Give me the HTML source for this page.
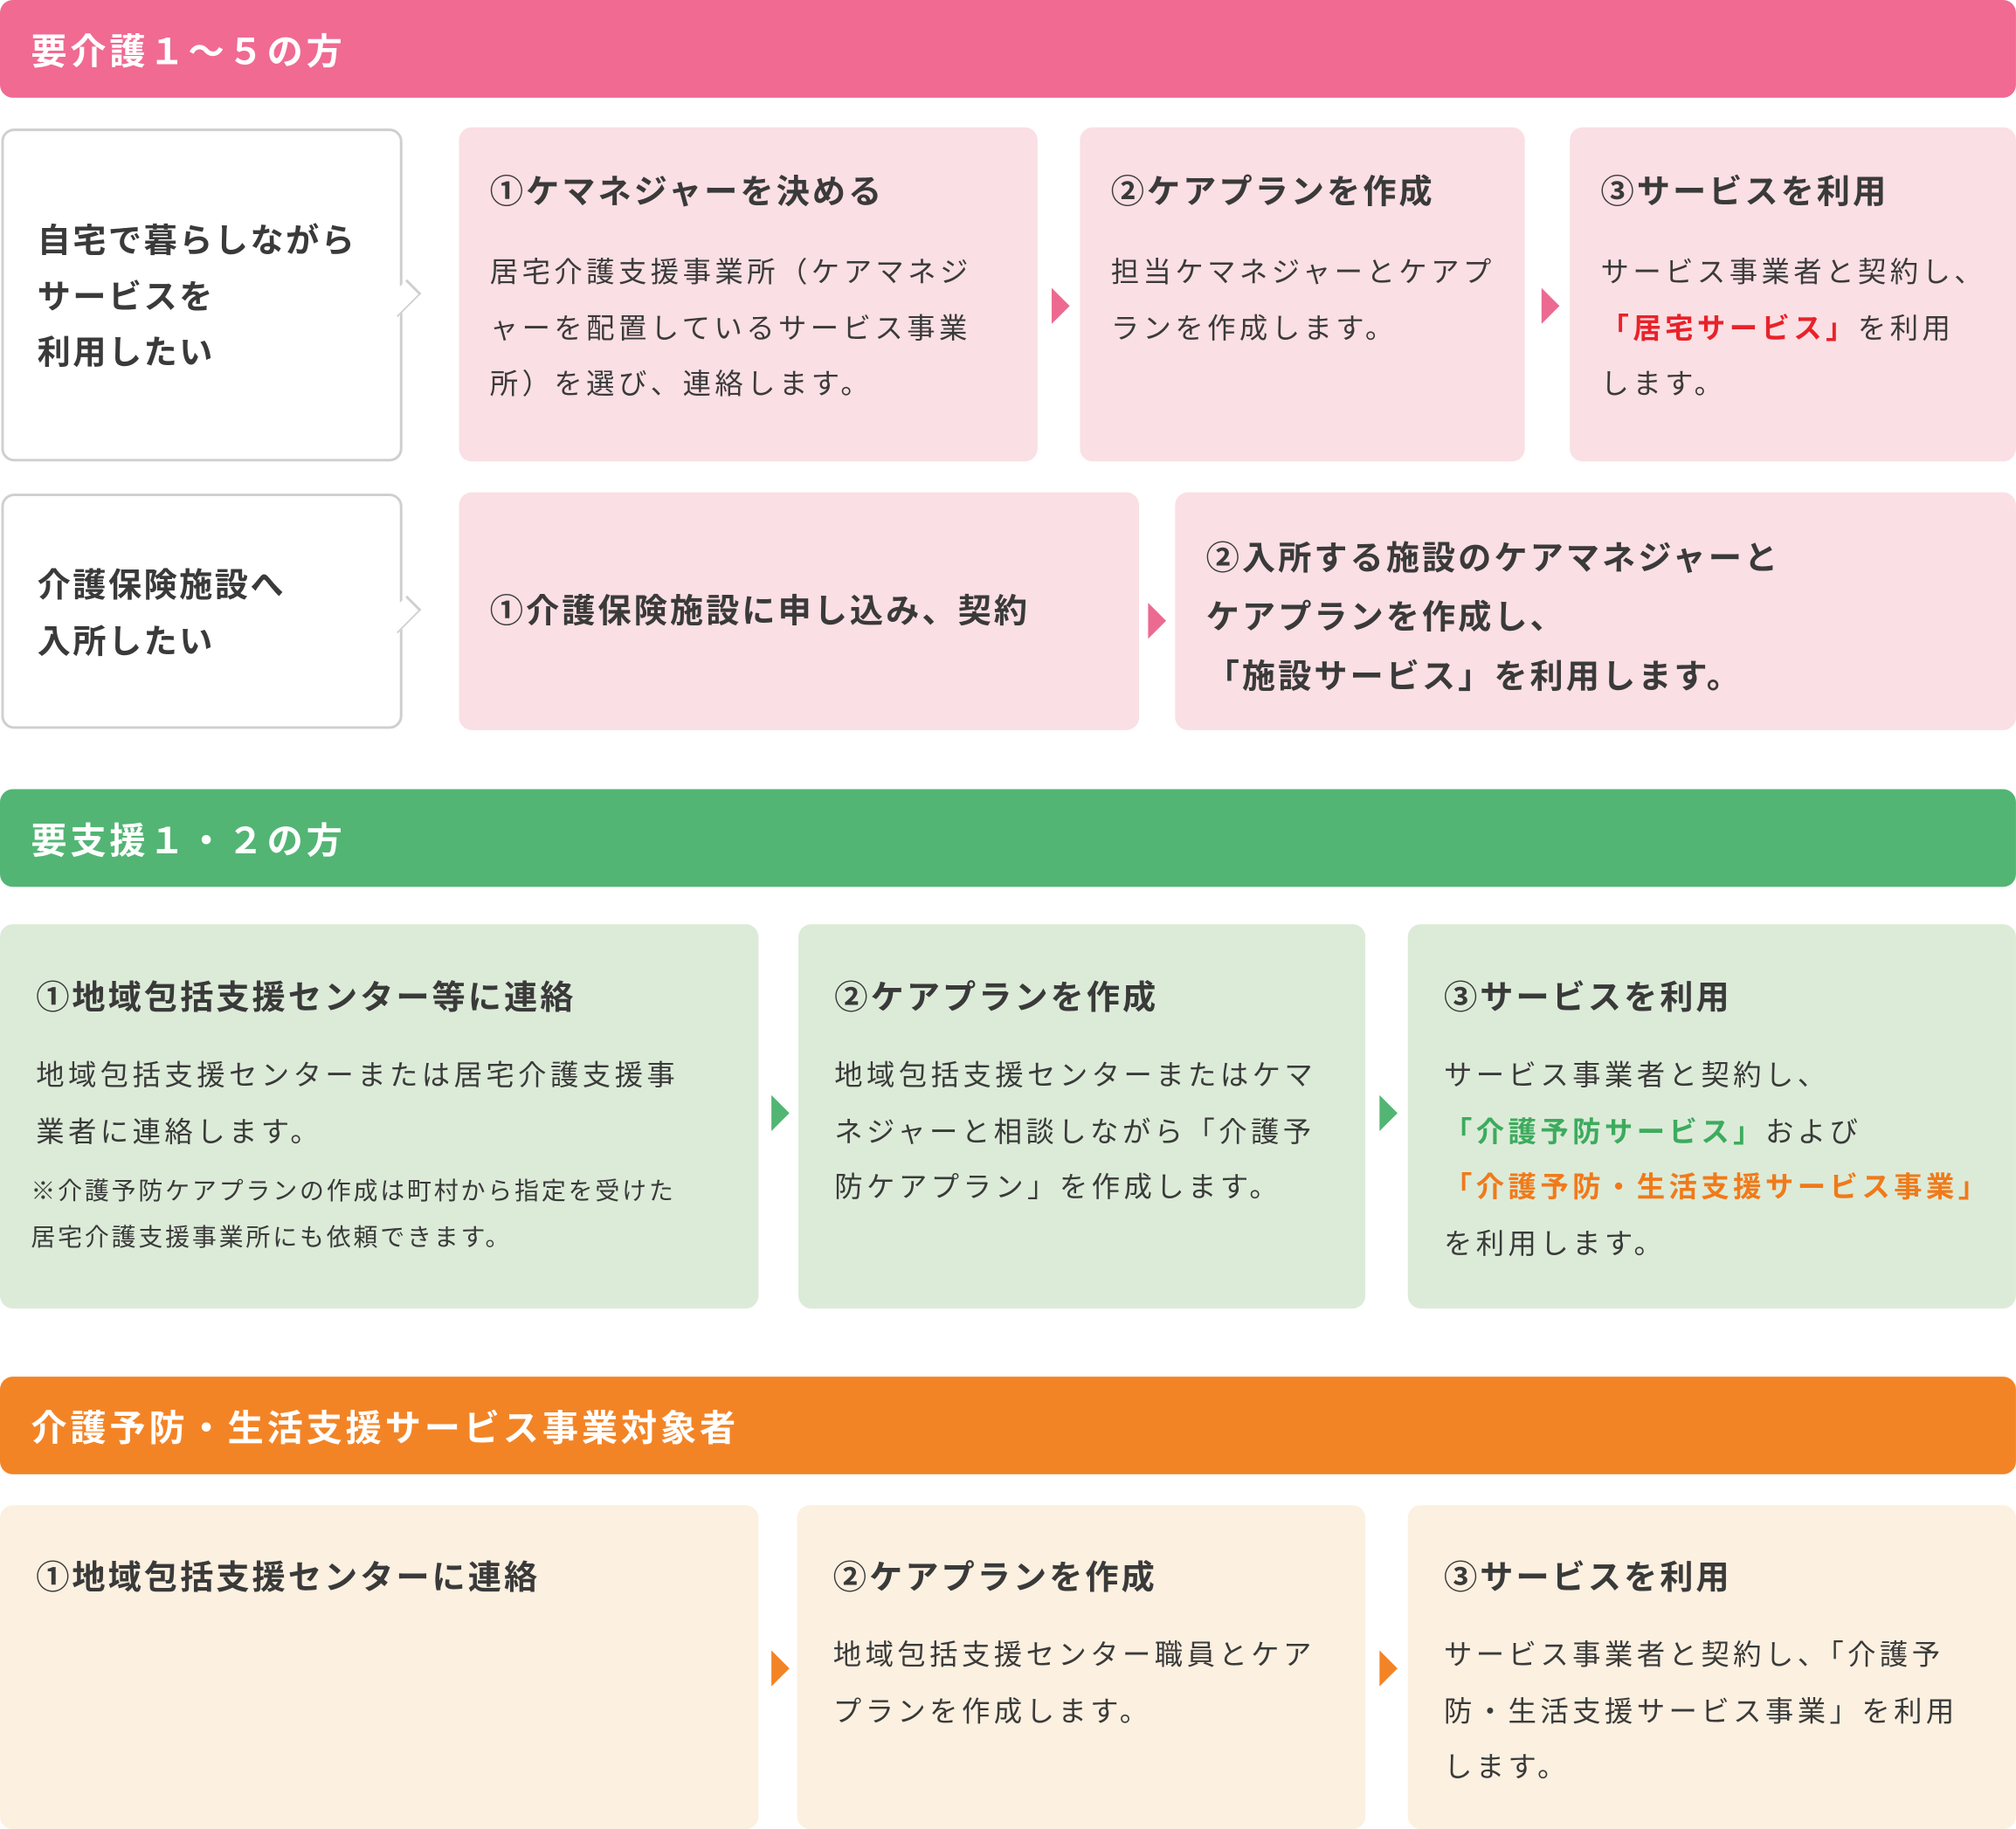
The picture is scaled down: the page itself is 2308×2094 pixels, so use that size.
<!DOCTYPE html>
<html><head><meta charset="utf-8">
<style>
html,body{margin:0;padding:0;background:#fff;}
body{width:2308px;height:2094px;overflow:hidden;}
#w{position:absolute;left:0;top:0;width:1568px;height:1423px;transform:scale(1.4719,1.4716);transform-origin:0 0;font-family:"Liberation Sans","Noto Sans CJK JP",sans-serif;color:#3a3a3a;}
.a{position:absolute;box-sizing:border-box;}
.hd{left:0;width:1568px;height:76px;border-radius:10px;color:#fff;font-weight:bold;font-size:28px;line-height:82px;padding-left:24px;letter-spacing:2.6px;}
.lb{background:#fff;border:2px solid #cfcfcf;border-radius:10px;font-weight:bold;font-size:26px;line-height:43.5px;padding-left:26px;letter-spacing:1.6px;}
.ptr{position:absolute;right:-15px;width:24px;height:24px;background:#fff;border-right:2px solid #cfcfcf;border-top:2px solid #cfcfcf;transform:rotate(45deg) scaleX(0.6);}
.bx{border-radius:10px;padding:30px 0 0 24px;}
.t{font-weight:bold;font-size:26px;line-height:40px;letter-spacing:2px;}
.b{font-size:22px;line-height:43.5px;letter-spacing:3px;margin-top:21px;}
.n{font-size:19px;line-height:36px;letter-spacing:1.9px;margin-top:8px;margin-left:-4px;}
.ar{position:absolute;width:0;height:0;border-top:14px solid transparent;border-bottom:14px solid transparent;border-left:14px solid;}
.pk{background:#fadfe4;} .gr{background:#dcebd8;} .or{background:#fcf0e0;}
.red{color:#e8222a;font-weight:bold;} .grn{color:#3dab5e;font-weight:bold;} .org{color:#f07a1a;font-weight:bold;}
</style></head><body><div id="w">

<div class="a hd" style="top:0;background:#f06a92;">要介護１～５の方</div>

<div class="a lb" style="left:1px;top:100px;width:312px;height:259px;padding-top:64px;">自宅で暮らしながら<br>サービスを<br>利用したい<div class="ptr" style="top:117px;"></div></div>
<div class="a bx pk" style="left:357px;top:99px;width:450px;height:260px;"><div class="t">①ケマネジャーを決める</div><div class="b">居宅介護支援事業所（ケアマネジ<br>ャーを配置しているサービス事業<br>所）を選び、連絡します。</div></div>
<div class="ar" style="left:818px;top:224px;border-left-color:#ec6a92;"></div>
<div class="a bx pk" style="left:840px;top:99px;width:346px;height:260px;"><div class="t">②ケアプランを作成</div><div class="b">担当ケマネジャーとケアプ<br>ランを作成します。</div></div>
<div class="ar" style="left:1199px;top:224px;border-left-color:#ec6a92;"></div>
<div class="a bx pk" style="left:1221px;top:99px;width:347px;height:260px;"><div class="t">③サービスを利用</div><div class="b">サービス事業者と契約し、<br><span class="red">「居宅サービス」</span>を利用<br>します。</div></div>

<div class="a lb" style="left:1px;top:384px;width:312px;height:183px;padding-top:48px;">介護保険施設へ<br>入所したい<div class="ptr" style="top:79px;"></div></div>
<div class="a bx pk" style="left:357px;top:383px;width:529px;height:185px;padding-top:72px;"><div class="t">①介護保険施設に申し込み、契約</div></div>
<div class="ar" style="left:893px;top:469px;border-left-color:#ec6a92;"></div>
<div class="a bx pk" style="left:914px;top:383px;width:654px;height:185px;padding-top:28px;"><div class="t" style="line-height:46px;">②入所する施設のケアマネジャーと<br>ケアプランを作成し、<br>「施設サービス」を利用します。</div></div>

<div class="a hd" style="top:614px;background:#52b574;">要支援１・２の方</div>

<div class="a bx gr" style="left:0;top:719px;width:590px;height:299px;padding-left:28px;padding-top:37px;"><div class="t">①地域包括支援センター等に連絡</div><div class="b" style="margin-top:19px;">地域包括支援センターまたは居宅介護支援事<br>業者に連絡します。</div><div class="n">※介護予防ケアプランの作成は町村から指定を受けた<br>居宅介護支援事業所にも依頼できます。</div></div>
<div class="ar" style="left:600px;top:852px;border-left-color:#52b574;"></div>
<div class="a bx gr" style="left:621px;top:719px;width:441px;height:299px;padding-left:28px;padding-top:37px;"><div class="t">②ケアプランを作成</div><div class="b" style="margin-top:19px;">地域包括支援センターまたはケマ<br>ネジャーと相談しながら「介護予<br>防ケアプラン」を作成します。</div></div>
<div class="ar" style="left:1073px;top:852px;border-left-color:#52b574;"></div>
<div class="a bx gr" style="left:1095px;top:719px;width:473px;height:299px;padding-left:28px;padding-top:37px;"><div class="t">③サービスを利用</div><div class="b" style="margin-top:19px;">サービス事業者と契約し、<br><span class="grn">「介護予防サービス」</span>および<br><span class="org">「介護予防・生活支援サービス事業」</span><br>を利用します。</div></div>

<div class="a hd" style="top:1071px;background:#f38426;">介護予防・生活支援サービス事業対象者</div>

<div class="a bx or" style="left:0;top:1171px;width:590px;height:252px;padding-left:28px;padding-top:36px;"><div class="t">①地域包括支援センターに連絡</div></div>
<div class="ar" style="left:600px;top:1284px;border-left-color:#f38426;"></div>
<div class="a bx or" style="left:620px;top:1171px;width:442px;height:252px;padding-left:28px;padding-top:36px;"><div class="t">②ケアプランを作成</div><div class="b" style="margin-top:19px;">地域包括支援センター職員とケア<br>プランを作成します。</div></div>
<div class="ar" style="left:1073px;top:1284px;border-left-color:#f38426;"></div>
<div class="a bx or" style="left:1095px;top:1171px;width:473px;height:252px;padding-left:28px;padding-top:36px;"><div class="t">③サービスを利用</div><div class="b" style="margin-top:19px;">サービス事業者と契約し、「介護予<br>防・生活支援サービス事業」を利用<br>します。</div></div>

</div></body></html>
